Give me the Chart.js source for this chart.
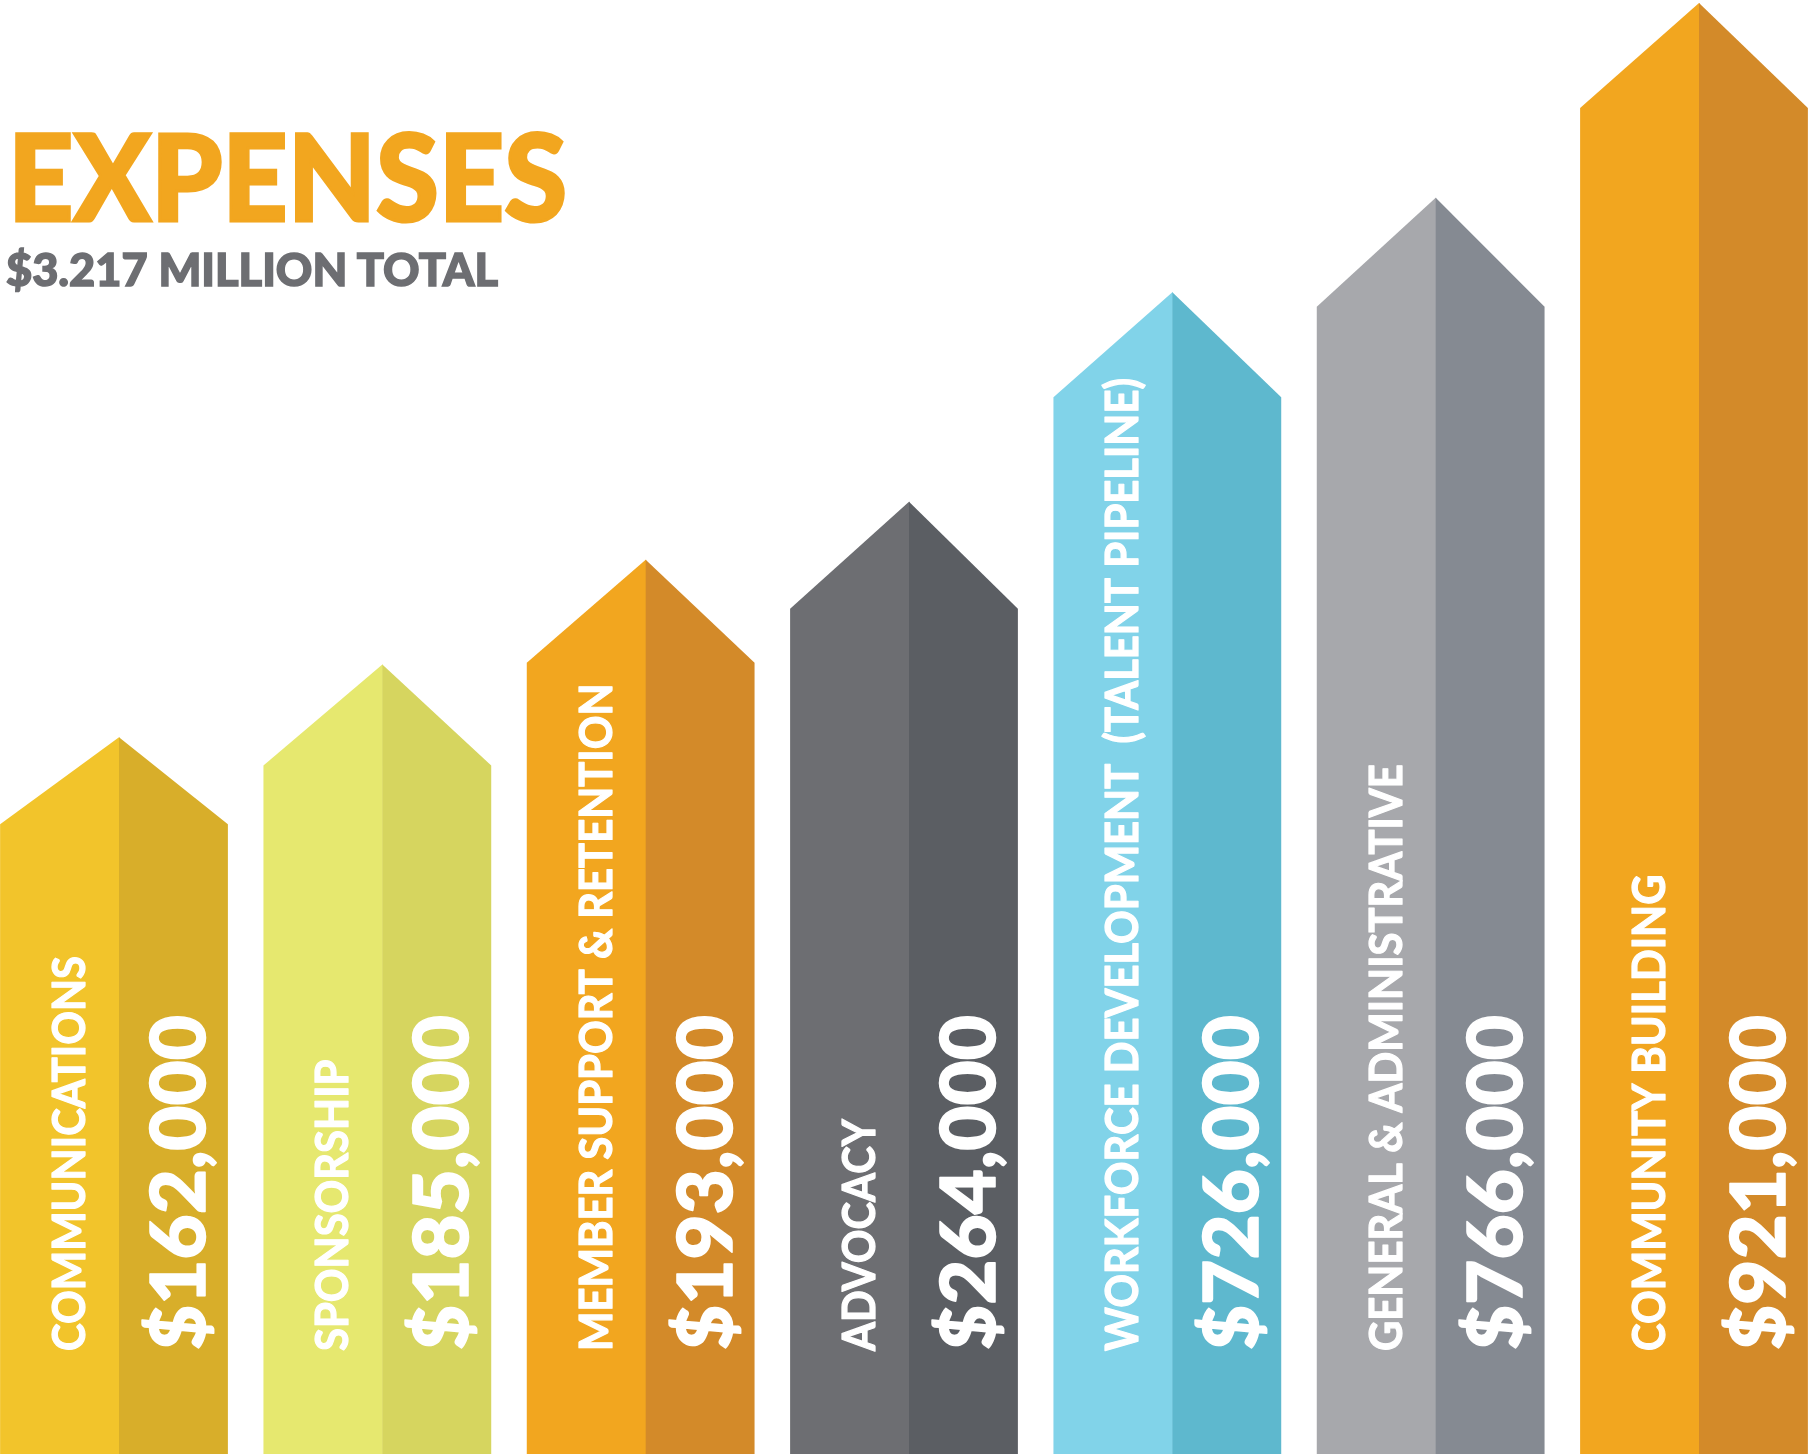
<!DOCTYPE html>
<html>
<head>
<meta charset="utf-8">
<script src="https://cdn.jsdelivr.net/npm/chart.js@4.4.1/dist/chart.umd.min.js"></script>
<style>
  html, body { margin: 0; padding: 0; background: #ffffff; overflow: hidden; }
  #wrap { position: relative; width: 1817px; height: 1454px; }
  #chart { position: absolute; left: 0; top: 0; }
  .head { position: absolute; white-space: nowrap; font-family: Lato, "Open Sans", sans-serif; line-height: 1; transform-origin: 0 0; }
  #title { left: 8px; top: 114px; font-size: 121px; font-weight: 900; color: #F2A61F; -webkit-text-stroke: 3px #F2A61F; }
  #subtitle { left: 6px; top: 247px; font-size: 45px; font-weight: 900; color: #6D6E72; -webkit-text-stroke: 1.5px #6D6E72; }
</style>
</head>
<body>
<div id="wrap">
  <canvas id="chart" width="1817" height="1454"></canvas>
  <div id="title" class="head">EXPENSES</div>
  <div id="subtitle" class="head">$3.217 MILLION TOTAL</div>
</div>
<script>
// ---- data ----
const categories = [
  'COMMUNICATIONS',
  'SPONSORSHIP',
  'MEMBER SUPPORT & RETENTION',
  'ADVOCACY',
  'WORKFORCE DEVELOPMENT  (TALENT PIPELINE)',
  'GENERAL & ADMINISTRATIVE',
  'COMMUNITY BUILDING'
];
const expenses = [162000, 185000, 193000, 264000, 726000, 766000, 921000];
// arrow tip level of each column, as drawn in the infographic (percent of full height)
const arrowLevels = [49.3, 54.3, 61.5, 65.5, 79.9, 86.4, 99.8];

// ---- style ----
const leftColors  = ['#F2C42B', '#E6E86F', '#F2A61F', '#6D6E72', '#81D3E9', '#A7A8AC', '#F2A61F'];
const rightColors = ['#D8AE2A', '#D6D55F', '#D38A29', '#5B5E63', '#5EB8CE', '#858A92', '#D38A29'];
const headHeights = [87, 101, 103, 107, 105, 109, 105];

const arrowPlugin = {
  id: 'arrowPlugin',
  afterDatasetsDraw(chart) {
    const ctx = chart.ctx;
    const meta = chart.getDatasetMeta(0);
    const catFont = '700 45px Lato, "Open Sans", sans-serif';
    const amtFont = '900 77px Lato, "Open Sans", sans-serif';
    ctx.save();
    ctx.font = catFont;
    const catScale = 395 / ctx.measureText('COMMUNICATIONS').width;
    ctx.font = amtFont;
    const amtScale = 335 / ctx.measureText('$162,000').width;
    ctx.restore();

    meta.data.forEach((bar, i) => {
      const p = bar.getProps(['x', 'y', 'base', 'width'], true);
      const left = p.x - p.width / 2, right = p.x + p.width / 2;
      const split = left + p.width * 0.522;
      const shoulder = p.y + headHeights[i];
      ctx.save();
      ctx.fillStyle = leftColors[i];
      ctx.beginPath();
      ctx.moveTo(left, p.base);
      ctx.lineTo(left, shoulder);
      ctx.lineTo(split, p.y);
      ctx.lineTo(split + 0.5, p.y);
      ctx.lineTo(split + 0.5, p.base);
      ctx.closePath();
      ctx.fill();
      ctx.fillStyle = rightColors[i];
      ctx.beginPath();
      ctx.moveTo(split, p.base);
      ctx.lineTo(split, p.y);
      ctx.lineTo(right, shoulder);
      ctx.lineTo(right, p.base);
      ctx.closePath();
      ctx.fill();

      ctx.fillStyle = '#ffffff';
      ctx.strokeStyle = '#ffffff';
      ctx.lineJoin = 'round';
      ctx.textBaseline = 'alphabetic';
      ctx.textAlign = 'left';
      // category label
      ctx.save();
      ctx.translate(left + 85, p.base - 103);
      ctx.rotate(-Math.PI / 2);
      ctx.scale(catScale, 1);
      ctx.font = catFont;
      ctx.lineWidth = 1.2;
      ctx.fillText(categories[i], 0, 0);
      ctx.strokeText(categories[i], 0, 0);
      ctx.restore();
      // amount label
      ctx.save();
      ctx.translate(left + 205, p.base - 104);
      ctx.rotate(-Math.PI / 2);
      ctx.scale(amtScale, 1);
      ctx.font = amtFont;
      ctx.lineWidth = 1.5;
      const amt = '$' + expenses[i].toLocaleString('en-US');
      ctx.fillText(amt, 0, 0);
      ctx.strokeText(amt, 0, 0);
      ctx.restore();
      ctx.restore();
    });
  }
};

new Chart(document.getElementById('chart'), {
  type: 'bar',
  data: {
    labels: categories,
    datasets: [{
      data: arrowLevels,
      backgroundColor: 'rgba(0,0,0,0)',
      borderWidth: 0,
      barPercentage: 0.865,
      categoryPercentage: 1,
      clip: false
    }]
  },
  options: {
    responsive: false,
    animation: false,
    events: [],
    layout: { padding: { left: 114, right: 123, top: 0, bottom: 0 } },
    plugins: { legend: { display: false }, tooltip: { enabled: false }, title: { display: false } },
    scales: {
      x: { display: false, offset: false },
      y: { display: false, min: 0, max: 100 }
    }
  },
  plugins: [arrowPlugin]
});

// fit heading widths to the artwork
function fitWidth(id, target) {
  const el = document.getElementById(id);
  el.style.transform = 'none';
  const w = el.getBoundingClientRect().width;
  el.style.transform = 'scaleX(' + (target / w) + ')';
}
fitWidth('title', 559);
fitWidth('subtitle', 492);
</script>
</body>
</html>
